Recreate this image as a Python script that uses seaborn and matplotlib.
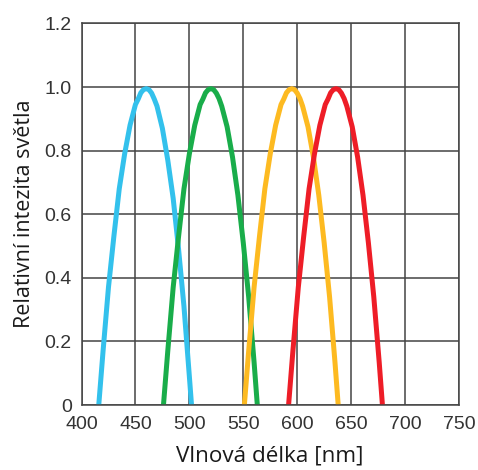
import numpy as np
import pandas as pd
import matplotlib
matplotlib.use("Agg")
import matplotlib.pyplot as plt
import seaborn as sns

# ---- data ----
blue_x = [416, 420, 425, 430, 435, 440, 445, 450, 452.5, 455, 457.5, 460, 462.5, 465, 467.5, 470,
          475, 480, 485, 490, 495, 500, 502]
blue_y = [0.0, 0.17, 0.37, 0.53, 0.68, 0.79, 0.88, 0.945, 0.962, 0.982, 0.992, 0.995, 0.992, 0.981,
          0.962, 0.94, 0.87, 0.77, 0.65, 0.49, 0.31, 0.09, 0.0]

green_x = [476, 480, 485, 490, 495, 500, 505, 510, 512.5, 515, 517.5, 520, 522.5, 525, 527.5, 530,
           535, 540, 545, 550, 555, 560, 563]
green_y = [0.0, 0.17, 0.37, 0.53, 0.68, 0.79, 0.88, 0.945, 0.962, 0.982, 0.992, 0.995, 0.992, 0.981,
           0.964, 0.94, 0.875, 0.78, 0.66, 0.51, 0.34, 0.135, 0.0]

orange_x = [551, 555, 560, 565, 570, 575, 580, 585, 587.5, 590, 592.5, 595, 597.5, 600, 602.5, 605,
            610, 615, 620, 625, 630, 635, 638]
orange_y = [0.0, 0.17, 0.37, 0.53, 0.68, 0.79, 0.88, 0.945, 0.962, 0.982, 0.992, 0.995, 0.992, 0.981,
            0.964, 0.94, 0.875, 0.78, 0.66, 0.51, 0.34, 0.135, 0.0]

red_x = [592, 596, 601, 606, 611, 616, 621, 626, 628.5, 631, 633.5, 636, 638.5, 641, 643.5, 646,
         651, 656, 661, 666, 671, 676, 679]
red_y = [0.0, 0.17, 0.37, 0.53, 0.68, 0.79, 0.88, 0.945, 0.962, 0.982, 0.992, 0.995, 0.992, 0.981,
         0.964, 0.94, 0.875, 0.78, 0.66, 0.51, 0.34, 0.135, 0.0]

series_names = ["blue", "green", "orange", "red"]
series_colors = ["#33C1EC", "#19AD4A", "#FDBA21", "#EE1D27"]

x_ticks = [400, 450, 500, 550, 600, 650, 700, 750]
y_ticks = [0, 0.2, 0.4, 0.6, 0.8, 1.0, 1.2]
y_tick_labels = ["0", "0.2", "0.4", "0.6", "0.8", "1.0", "1.2"]

x_label = "Vlnová délka [nm]"
y_label = "Relativní intezita světla"

# ---- build long table ----
frames = []
for name, xs, ys in zip(series_names,
                        [blue_x, green_x, orange_x, red_x],
                        [blue_y, green_y, orange_y, red_y]):
    frames.append(pd.DataFrame({"x": xs, "y": ys, "s": name}))
df = pd.concat(frames, ignore_index=True)

sns.set_style("white")
plt.rcParams["font.family"] = ["Liberation Sans", "DejaVu Sans"]

fig = plt.figure(figsize=(4.78, 4.70), dpi=100)
ax = fig.add_axes([81.5 / 478, (470 - 405) / 470, (459 - 81.5) / 478, (405 - 23.5) / 470])

ax.set_axisbelow(True)
ax.grid(True, color="#444444", linewidth=1.1)

sns.lineplot(data=df, x="x", y="y", hue="s", palette=dict(zip(series_names, series_colors)),
             linewidth=3.6, legend=False, ax=ax, sort=False, estimator=None)
for ln in ax.lines:
    ln.set_solid_capstyle("butt")
    ln.set_solid_joinstyle("round")

ax.set_xlim(400, 750)
ax.set_ylim(0, 1.2)
ax.set_xticks(x_ticks)
ax.set_yticks(y_ticks)
ax.set_yticklabels(y_tick_labels)
ax.tick_params(axis="both", length=0, labelsize=14, colors="#333333")
ax.tick_params(axis="x", pad=8)
ax.tick_params(axis="y", pad=7)
for sp in ax.spines.values():
    sp.set_color("#444444")
    sp.set_linewidth(1.1)

ax.set_xlabel(x_label, fontsize=16.2, family=["Open Sans", "DejaVu Sans"], color="#1a1a1a", labelpad=9)
ax.set_ylabel(y_label, fontsize=15.5, family=["Open Sans", "DejaVu Sans"], color="#1a1a1a", labelpad=7)

fig.savefig("out.png", dpi=100)
